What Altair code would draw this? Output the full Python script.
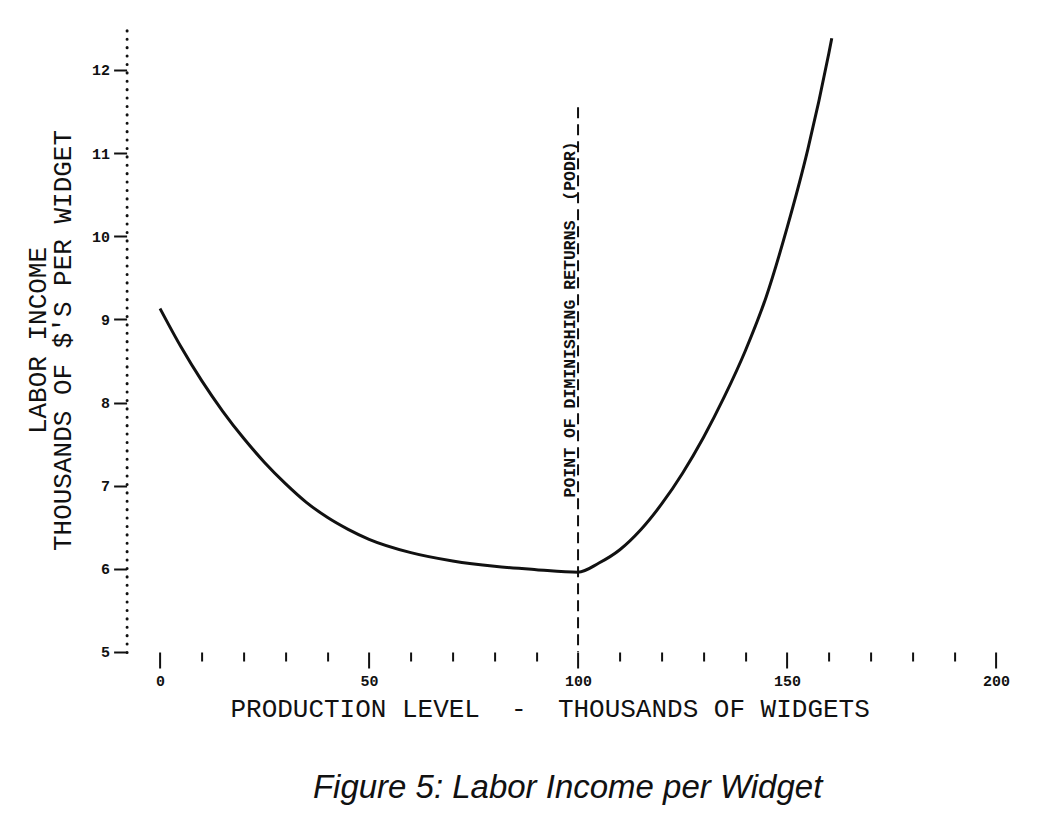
import altair as alt
import pandas as pd

# ---- data ----
prod_x = [0, 5, 10, 15, 20, 25, 30, 35, 40, 45, 50, 60, 70, 80, 90, 100,
          105, 110, 115, 120, 125, 130, 135, 140, 145, 150, 155, 160, 160.7]
income_y = [9.13, 8.67, 8.26, 7.895, 7.57, 7.28, 7.025, 6.80, 6.62, 6.475, 6.355, 6.195,
            6.095, 6.03, 5.99, 5.96, 6.07, 6.23, 6.47, 6.78, 7.15, 7.58, 8.07, 8.62,
            9.27, 10.10, 11.05, 12.20, 12.38]
x_tick_values = list(range(0, 201, 10))
y_tick_values = [5, 6, 7, 8, 9, 10, 11, 12]
podr_x = [100]
podr_top = [11.55]
podr_bottom = [5.0]
podr_label = ["POINT OF DIMINISHING RETURNS\u00a0\u00a0(PODR)"]
podr_label_y = [9.0]

x_title = "PRODUCTION LEVEL\u00a0\u00a0-\u00a0\u00a0THOUSANDS OF WIDGETS"
y_title = ["LABOR INCOME", "THOUSANDS OF $'S PER WIDGET"]
fig_title = "Figure 5: Labor Income per Widget"

curve_df = pd.DataFrame({"x": prod_x, "y": income_y})
podr_df = pd.DataFrame({"x": podr_x, "y": podr_top, "y2": podr_bottom})
label_df = pd.DataFrame({"x": podr_x, "y": podr_label_y, "label": podr_label})

INK = "#111111"
MONO = "Liberation Mono"

x_scale = alt.Scale(domain=[-8, 203], nice=False, zero=False)
y_scale = alt.Scale(domain=[5, 12.54], nice=False, zero=False)

x_axis = alt.Axis(
    values=x_tick_values,
    domain=False,
    grid=False,
    ticks=True,
    tickColor=INK,
    tickWidth=2,
    tickSize={"condition": {"test": "datum.value % 50 === 0", "value": 16}, "value": 9},
    labelExpr="datum.value % 50 === 0 ? datum.label : ''",
    labelFont=MONO,
    labelFontWeight="bold",
    labelFontSize=15,
    labelColor=INK,
    labelPadding=13,
    labelBaseline="middle",
    title=x_title,
    titleFont=MONO,
    titleFontWeight="normal",
    titleFontSize=26,
    titleColor=INK,
    titleX=423,
    titleY=57,
    titleAlign="center",
    titleBaseline="middle",
)

y_axis = alt.Axis(
    values=y_tick_values,
    domain=True,
    domainColor=INK,
    domainWidth=3,
    domainCap="round",
    domainDash=[0.1, 8.3],
    grid=False,
    tickColor=INK,
    tickWidth=2,
    tickSize=13,
    labelFont=MONO,
    labelFontWeight="bold",
    labelFontSize=15,
    labelColor=INK,
    labelPadding=4,
    title=y_title,
    titleFont=MONO,
    titleFontWeight="normal",
    titleFontSize=26,
    titleColor=INK,
    titleLineHeight=25,
    titleAngle=270,
    titleX=-89,
    titleY=315,
    titleAlign="center",
    titleBaseline="middle",
)

curve = alt.Chart(curve_df).mark_line(
    color=INK, strokeWidth=3, interpolate="monotone"
).encode(
    x=alt.X("x:Q", scale=x_scale, axis=x_axis),
    y=alt.Y("y:Q", scale=y_scale, axis=y_axis),
)

podr_rule = alt.Chart(podr_df).mark_rule(
    color=INK, strokeWidth=2, strokeDash=[11, 6]
).encode(
    x=alt.X("x:Q", scale=x_scale, axis=x_axis),
    y=alt.Y("y:Q", scale=y_scale, axis=y_axis),
    y2="y2:Q",
)

podr_text = alt.Chart(label_df).mark_text(
    angle=270, align="center", baseline="alphabetic", dy=-3,
    font=MONO, fontWeight="bold", fontSize=16.5, color=INK
).encode(
    x=alt.X("x:Q", scale=x_scale, axis=x_axis),
    y=alt.Y("y:Q", scale=y_scale, axis=y_axis),
    text="label:N",
)

chart = alt.layer(curve, podr_rule, podr_text).properties(
    width=882,
    height=627,
    autosize=alt.AutoSizeParams(type="none"),
    padding={"left": 118.6, "top": 17, "right": 20, "bottom": 170},
    background="white",
    title=alt.TitleParams(
        fig_title,
        orient="bottom",
        anchor="middle",
        font="Liberation Sans",
        fontStyle="italic",
        fontWeight="normal",
        fontSize=33,
        color=INK,
        offset=50,
    ),
).configure_view(stroke=None)

chart.save("out.html", embed_options={"renderer": "svg", "actions": False})
